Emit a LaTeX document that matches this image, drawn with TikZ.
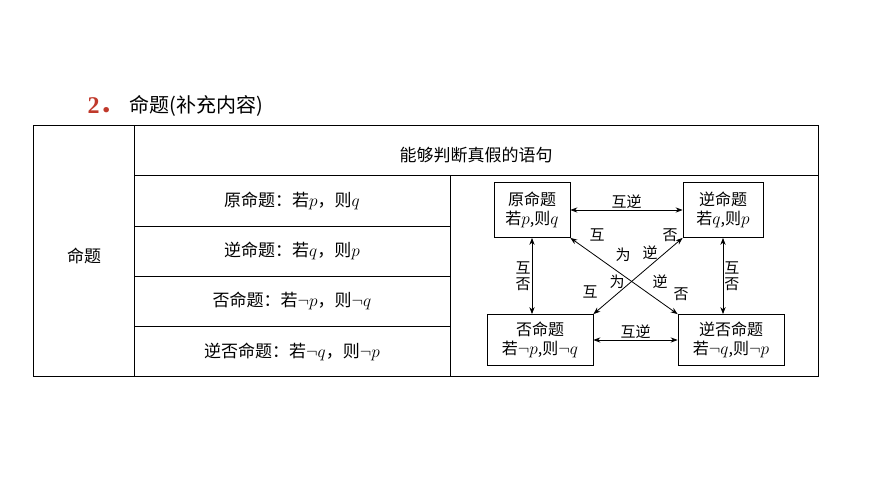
\documentclass[tikz,border=0pt]{standalone}
\usepackage{fontspec}
\setmainfont{Liberation Serif}
\newfontfamily\cjk{Noto Sans CJK SC}
\usetikzlibrary{arrows.meta, positioning}
\definecolor{titlered}{HTML}{C0392B}
\tikzset{
  cell/.style={font=\cjk\fontsize{17}{19}\selectfont},
  prop/.style={draw, thick, align=center, inner sep=2pt, font=\cjk\fontsize{16}{19}\selectfont},
  link/.style={thick, {Stealth[length=7pt]}-{Stealth[length=7pt]}},
  lbl/.style={font=\cjk\fontsize{15}{16}\selectfont, inner sep=1pt}
}
\begin{document}
\begin{tikzpicture}[x=1pt, y=-1pt]
  \useasboundingbox (0,0) rectangle (870,487);
  % --- Title ---
  \node[anchor=west, text=titlered, font=\bfseries\fontsize{24}{26}\selectfont] (num) at (84,106) {2\cjk．};
  \node[anchor=west, font=\cjk\fontsize{20}{22}\selectfont] (title) at (126,106) {命题(补充内容)};

  % --- Table grid ---
  \draw[line width=0.8pt] (33,125) rectangle (818,376);
  \draw[line width=0.8pt] (134,125) -- (134,376);
  \draw[line width=0.8pt] (134,175) -- (818,175);
  \foreach \y in {226,276,326} \draw[line width=0.8pt] (134,\y) -- (450,\y);
  \draw[line width=0.8pt] (450,175) -- (450,376);

  % --- Table text ---
  \node[cell] (head) at (84,256) {命题};
  \node[cell] (def) at (476,155) {能够判断真假的语句};
  \node[cell] (r1) at (292,201) {原命题：若$p$，则$q$};
  \node[cell] (r2) at (292,251) {逆命题：若$q$，则$p$};
  \node[cell] (r3) at (292,301) {否命题：若$\neg p$，则$\neg q$};
  \node[cell] (r4) at (292,352) {逆否命题：若$\neg q$，则$\neg p$};

  % --- Four propositions ---
  \node[prop, minimum width=76pt, minimum height=55pt] (yuan) at (532,210) {原命题\\若$p$,则$q$};
  \node[prop, minimum width=80pt, minimum height=55pt] (ni) at (723,210) {逆命题\\若$q$,则$p$};
  \node[prop, minimum width=106pt, minimum height=51pt] (fou) at (540,340) {否命题\\若$\neg p$,则$\neg q$};
  \node[prop, minimum width=106pt, minimum height=51pt] (nifou) at (731,340) {逆否命题\\若$\neg q$,则$\neg p$};

  % --- Relations ---
  \draw[link] (yuan) -- node[lbl, above] {互逆} (ni);
  \draw[link] (fou) -- node[lbl, above] {互逆} (nifou);
  \draw[link] (yuan.south) -- node[lbl, left, align=center] {互\\否} (yuan.south |- fou.north);
  \draw[link] (ni.south) -- node[lbl, right, align=center] {互\\否} (ni.south |- nifou.north);
  \draw[link] (yuan.south east) -- (nifou.north west);
  \draw[link] (ni.south west) -- (fou.north east);

  % diagonal labels
  \node[lbl] (a1) at (597,235) {互};
  \node[lbl] (a2) at (623,255) {为};
  \node[lbl] (a3) at (660,282) {逆};
  \node[lbl] (a4) at (681,294) {否};
  \node[lbl] (b1) at (590,292) {互};
  \node[lbl] (b2) at (617,282) {为};
  \node[lbl] (b3) at (650,253) {逆};
  \node[lbl] (b4) at (670,235) {否};
\end{tikzpicture}
\end{document}
